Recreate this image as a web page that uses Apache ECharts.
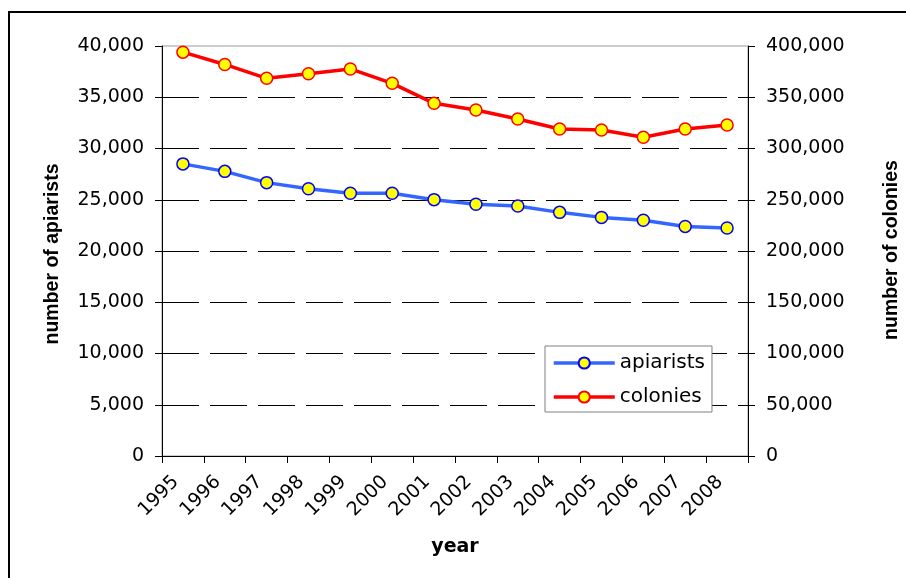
<!DOCTYPE html>
<html>
<head>
<meta charset="utf-8">
<script src="https://cdn.jsdelivr.net/npm/echarts@6/dist/echarts.min.js"></script>
<style>
  html, body { margin: 0; padding: 0; background: #fff; }
  #chart { width: 906px; height: 578px; }
</style>
</head>
<body>
<div id="chart"></div>
<script>
const years = ['1995','1996','1997','1998','1999','2000','2001','2002','2003','2004','2005','2006','2007','2008'];
const apiarists = [28500, 27770, 26670, 26080, 25630, 25630, 25010, 24560, 24390, 23770, 23280, 23000, 22400, 22240];
const colonies = [394000, 382000, 368500, 373000, 377600, 363600, 344100, 337600, 328800, 319000, 318000, 311000, 319000, 323000];
const leftTicks = { min: 0, max: 40000, interval: 5000 };
const rightTicks = { min: 0, max: 400000, interval: 50000 };

const fmt = v => Number(v).toLocaleString('en-US');
const tickFont = { fontFamily: 'DejaVu Sans', fontSize: 19, color: '#000' };

const chart = echarts.init(document.getElementById('chart'), null, { renderer: 'canvas' });
chart.setOption({
  animation: false,
  backgroundColor: '#fff',
  grid: { left: 162, right: 158, top: 46, bottom: 122, show: true, borderColor: '#9a9a9a', borderWidth: 1, backgroundColor: 'transparent' },
  legend: {
    orient: 'vertical', left: 545, top: 346,
    backgroundColor: '#fff', borderColor: '#808080', borderWidth: 1,
    padding: [7, 7, 5, 7], itemGap: 14, itemWidth: 61, itemHeight: 14,
    lineStyle: { width: 3.5 },
    textStyle: { fontFamily: 'DejaVu Sans', fontSize: 20, color: '#000' },
    data: ['apiarists', 'colonies']
  },
  xAxis: {
    type: 'category', data: years, boundaryGap: true,
    axisLine: { lineStyle: { color: '#000', width: 1 } },
    axisTick: { show: true, length: 7, lineStyle: { color: '#000' } },
    axisLabel: Object.assign({ rotate: 45, margin: 16, interval: 0, padding: [0, 10, 0, 0] }, tickFont),
    splitLine: { show: false }
  },
  yAxis: [
    {
      type: 'value', position: 'left', min: leftTicks.min, max: leftTicks.max, interval: leftTicks.interval,
      axisLine: { show: true, lineStyle: { color: '#000', width: 1 } },
      axisTick: { show: true, length: 7, lineStyle: { color: '#000' } },
      axisLabel: Object.assign({ margin: 18, formatter: fmt }, tickFont),
      splitLine: { show: true, showMinLine: false, showMaxLine: false, lineStyle: { color: '#000', width: 1, type: [37, 11] } }
    },
    {
      type: 'value', position: 'right', min: rightTicks.min, max: rightTicks.max, interval: rightTicks.interval,
      axisLine: { show: true, lineStyle: { color: '#000', width: 1 } },
      axisTick: { show: true, length: 7, lineStyle: { color: '#000' } },
      axisLabel: Object.assign({ margin: 18, formatter: fmt }, tickFont),
      splitLine: { show: false }
    }
  ],
  series: [
    {
      name: 'apiarists', type: 'line', yAxisIndex: 0, data: apiarists,
      symbol: 'circle', symbolSize: 12,
      lineStyle: { color: '#3366FF', width: 3.5 },
      itemStyle: { color: '#FFFF00', borderColor: '#0000FF', borderWidth: 1.5 },
      z: 3
    },
    {
      name: 'colonies', type: 'line', yAxisIndex: 1, data: colonies,
      symbol: 'circle', symbolSize: 12,
      lineStyle: { color: '#FF0000', width: 3.5 },
      itemStyle: { color: '#FFFF00', borderColor: '#FF0000', borderWidth: 1.5 },
      z: 3
    }
  ],
  graphic: [
    { type: 'rect', shape: { x: 9, y: 12, width: 1000, height: 1000 }, style: { fill: 'none', stroke: '#000', lineWidth: 2 }, z: 100, silent: true },
    { type: 'text', x: 53, y: 254, rotation: Math.PI / 2, style: { text: 'number of apiarists', fontFamily: 'Liberation Sans', fontWeight: 'bold', fontSize: 19.5, fill: '#000', align: 'center', verticalAlign: 'middle' } },
    { type: 'text', x: 892, y: 250, rotation: Math.PI / 2, style: { text: 'number of colonies', fontFamily: 'Liberation Sans', fontWeight: 'bold', fontSize: 19.5, fill: '#000', align: 'center', verticalAlign: 'middle' } },
    { type: 'text', x: 455, y: 547, style: { text: 'year', fontFamily: 'DejaVu Sans', fontWeight: 'bold', fontSize: 19, fill: '#000', align: 'center', verticalAlign: 'middle' } }
  ]
});
</script>
</body>
</html>
